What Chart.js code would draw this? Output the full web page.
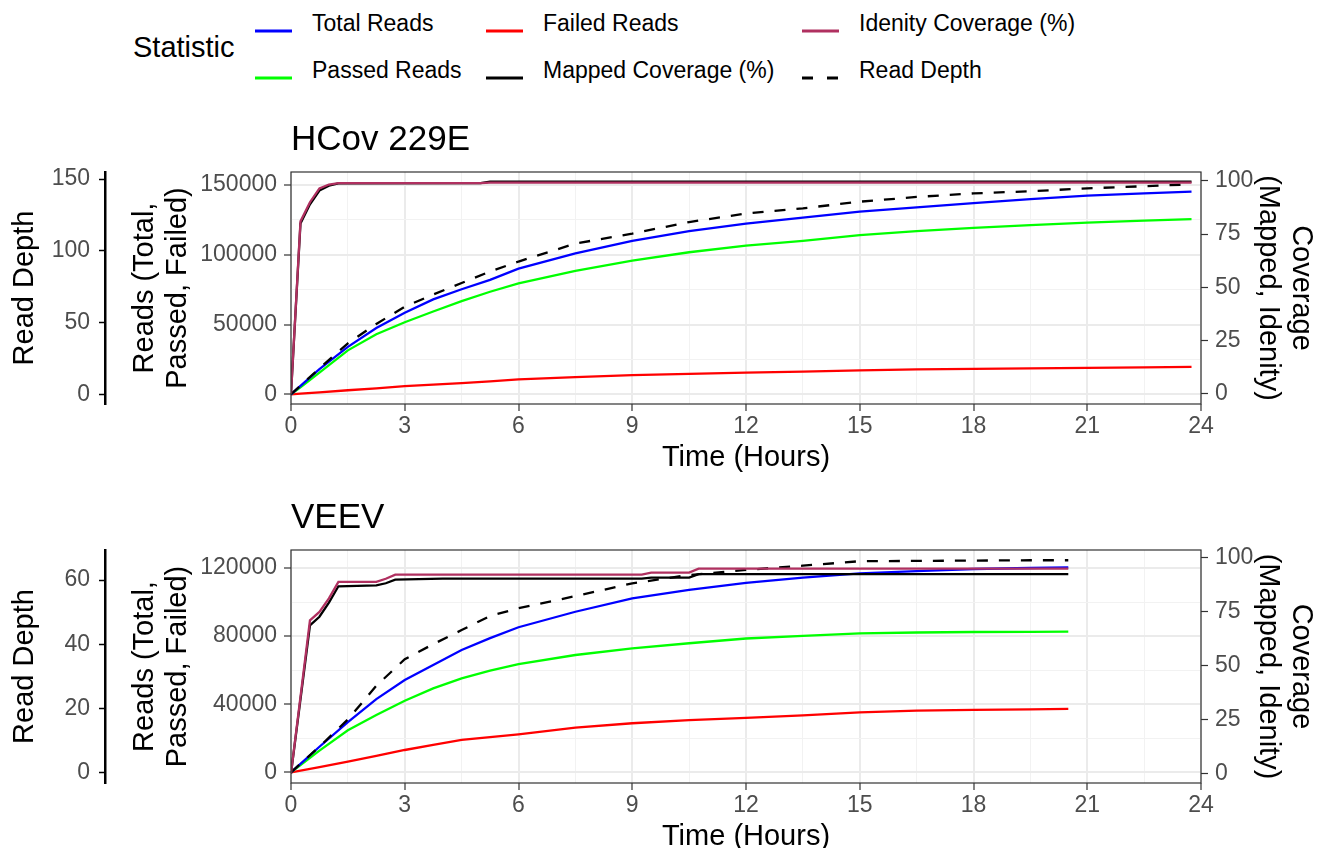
<!DOCTYPE html>
<html>
<head>
<meta charset="utf-8">
<title>Reads, coverage and depth over time</title>
<script src="https://cdn.jsdelivr.net/npm/chart.js@4.4.1/dist/chart.umd.min.js"></script>
<style>
  html, body { margin: 0; padding: 0; background: #fff; overflow: hidden; }
  body { width: 1318px; height: 848px; position: relative; font-family: "Liberation Sans", Arial, sans-serif; }
  #legend { position: absolute; left: 0; top: 0; width: 1318px; height: 95px; }
  .leg-title { position: absolute; left: 133px; top: 47px; font-size: 29px; line-height: 1; transform: translateY(-50%); }
  .leg-key { position: absolute; width: 37px; height: 6px; transform: translateY(-50%); }
  .leg-text { position: absolute; font-size: 23px; line-height: 1; transform: translateY(-50%); white-space: nowrap; }
  canvas { position: absolute; left: 0; }
</style>
</head>
<body>
<div id="legend"><div class="leg-title">Statistic</div></div>
<canvas id="hcov" width="1318" height="390" style="top:90px"></canvas>
<canvas id="veev" width="1318" height="379" style="top:480px"></canvas>
<script>
// Series (legend order, column by column)
const seriesNames = ['Total Reads', 'Passed Reads', 'Failed Reads', 'Mapped Coverage (%)', 'Idenity Coverage (%)', 'Read Depth'];
const seriesColors = ['#0000FF', '#00FF00', '#FF0000', '#000000', '#B03060', '#000000'];

// HCov 229E
const hcovHours = [0, 0.25, 0.75, 1.5, 2.25, 3, 3.75, 4.5, 5.25, 6, 7.5, 9, 10.5, 12, 13.5, 15, 16.5, 18, 19.5, 21, 22.5, 23.75];
const hcovTotal = [0, 6000, 18000, 34000, 47500, 58500, 68000, 75300, 82000, 90000, 101000, 110000, 117000, 122300, 126600, 130900, 134000, 137000, 139800, 142300, 144000, 145300];
const hcovPassed = [0, 5000, 15500, 31500, 43000, 51600, 59300, 66800, 73500, 79500, 88400, 95800, 101800, 106500, 109900, 114000, 117000, 119300, 121200, 123000, 124500, 125600];
const hcovFailed = [0, 450, 1400, 2900, 4300, 5800, 7000, 8000, 9200, 10700, 12300, 13800, 14700, 15500, 16300, 17200, 17900, 18200, 18600, 18900, 19300, 19600];
const hcovDepth = [0, 6, 18, 35.5, 49, 61, 69.5, 77.5, 85.5, 92.5, 105, 112, 120, 126, 129.6, 134.2, 137.5, 140, 141.5, 143.5, 145, 146.3];
const hcovCovHours = [0, 0.25, 0.5, 0.75, 1, 1.25, 5, 5.25, 23.75];
const hcovMapped = [0, 80, 89, 95.5, 97.8, 98.9, 99, 99.7, 99.7];
const hcovIdentity = [0, 81, 90, 96.5, 98.3, 99, 99, 99.2, 99.2];

// VEEV
const veevHours = [0, 0.75, 1.5, 2.25, 3, 3.75, 4.5, 5.25, 6, 7.5, 9, 10.5, 12, 13.5, 15, 16.5, 18, 19.5, 20.5];
const veevTotal = [0, 15000, 29500, 43000, 54200, 63000, 71800, 78800, 85200, 94300, 102200, 107100, 111200, 114300, 116900, 118200, 119400, 120000, 120400];
const veevPassed = [0, 12700, 24700, 33600, 42000, 49300, 55200, 59700, 63600, 68900, 72800, 75800, 78600, 80100, 81600, 82100, 82400, 82500, 82600];
const veevFailed = [0, 3000, 6200, 9700, 13100, 16100, 19000, 20700, 22300, 26200, 28800, 30700, 32000, 33400, 35200, 36200, 36700, 37000, 37200];
const veevDepth = [0, 8, 16.5, 27, 35.3, 40, 44.4, 48.8, 51.2, 55, 59, 61.6, 63.2, 64.5, 65.9, 66, 66.1, 66.2, 66.2];
const veevCovHours = [0, 0.5, 0.75, 1, 1.25, 2.25, 2.5, 2.75, 4, 9.25, 9.5, 10.5, 10.75, 20.5];
const veevMapped = [0, 68.5, 72.5, 79, 86.6, 87, 88, 89.7, 90.1, 90.1, 90.6, 90.6, 92.2, 92.2];
const veevIdentity = [0, 70.8, 74.7, 81, 88.6, 88.6, 90.1, 92, 92, 92, 92.9, 92.9, 94.8, 94.8];

// Tick values
const hourTicks = [0, 3, 6, 9, 12, 15, 18, 21, 24];
const hourMinor = [1.5, 4.5, 7.5, 10.5, 13.5, 16.5, 19.5, 22.5];
const coverageTicks = [0, 25, 50, 75, 100];
const hcovReadTicks = [0, 50000, 100000, 150000];
const hcovReadMinor = [25000, 75000, 125000];
const hcovDepthTicks = [0, 50, 100, 150];
const veevReadTicks = [0, 40000, 80000, 120000];
const veevReadMinor = [20000, 60000, 100000];
const veevDepthTicks = [0, 20, 40, 60];

Chart.defaults.font.family = '"Liberation Sans", Arial, sans-serif';
Chart.defaults.color = '#000';

// legend
const legend = document.getElementById('legend');
const colX = [255, 486, 802];
const rowY = [23, 70];
seriesNames.forEach((name, i) => {
    const x = colX[Math.floor(i / 2)], y = rowY[i % 2];
    const dash = name === 'Read Depth' ? ' stroke-dasharray="11 14"' : '';
    const key = document.createElement('div');
    key.className = 'leg-key';
    key.style.left = x + 'px';
    key.style.top = y + 'px';
    key.innerHTML = '<svg width="37" height="6"><line x1="0" y1="3" x2="37" y2="3" stroke="' + seriesColors[i] + '" stroke-width="3"' + dash + '/></svg>';
    legend.appendChild(key);
    const txt = document.createElement('div');
    txt.className = 'leg-text';
    txt.style.left = (x + 57) + 'px';
    txt.style.top = y + 'px';
    txt.textContent = name;
    legend.appendChild(txt);
});

const pts = (xs, ys) => xs.map((x, i) => ({ x: x, y: ys[i] }));
const tickList = (major, minor) => major.concat(minor || []).sort((a, b) => a - b).map(v => ({ value: v }));

const panelDecor = {
    id: 'panelDecor',
    afterDatasetsDraw(chart, args, opts) {
        const { ctx, chartArea: a } = chart;
        ctx.save();
        ctx.strokeStyle = '#333333';
        ctx.lineWidth = 1.2;
        ctx.strokeRect(a.left, a.top, a.right - a.left, a.bottom - a.top);
        ctx.restore();
    },
    afterDraw(chart, args, opts) {
        const { ctx, chartArea: a } = chart;
        ctx.save();
        ctx.font = '35px "Liberation Sans", Arial, sans-serif';
        ctx.fillStyle = '#000';
        ctx.textBaseline = 'alphabetic';
        ctx.fillText(opts.text, a.left, a.top - 22);
        ctx.restore();
    }
};

function makePanel(id, title, d, lim) {
    const line = (name, data, axis) => {
        const i = seriesNames.indexOf(name);
        return {
            label: name,
            data: data,
            yAxisID: axis,
            borderColor: seriesColors[i],
            borderWidth: 2.3,
            borderDash: name === 'Read Depth' ? [11, 11] : [],
            pointRadius: 0,
            tension: 0,
            fill: false
        };
    };
    const majorGrid = (major) => ({
        color: c => major.includes(c.tick.value) ? '#EBEBEB' : '#F2F2F2',
        lineWidth: c => major.includes(c.tick.value) ? 2 : 1,
        tickLength: 7,
        tickWidth: 1.2,
        tickColor: c => major.includes(c.tick.value) ? '#333333' : 'rgba(0,0,0,0)'
    });
    const tickFont = { size: 23 };

    new Chart(document.getElementById(id), {
        type: 'line',
        data: {
            datasets: [
                line('Idenity Coverage (%)', pts(d.covHours, d.identity), 'cov'),
                line('Mapped Coverage (%)', pts(d.covHours, d.mapped), 'cov'),
                line('Read Depth', pts(d.hours, d.depth), 'depth'),
                line('Total Reads', pts(d.hours, d.total), 'reads'),
                line('Passed Reads', pts(d.hours, d.passed), 'reads'),
                line('Failed Reads', pts(d.hours, d.failed), 'reads')
            ]
        },
        options: {
            responsive: false,
            animation: false,
            layout: { padding: { top: lim.top, left: 0, right: 0, bottom: 0 } },
            plugins: {
                legend: { display: false },
                tooltip: { enabled: false },
                panelDecor: { text: title }
            },
            scales: {
                x: {
                    type: 'linear', position: 'bottom', min: 0, max: 24,
                    afterBuildTicks: s => { s.ticks = tickList(hourTicks, hourMinor); },
                    afterFit: s => { s.height = 76; },
                    ticks: { autoSkip: false, maxRotation: 0, padding: 2, color: '#4D4D4D', font: tickFont,
                             callback: v => hourTicks.includes(v) ? String(v) : '' },
                    grid: majorGrid(hourTicks),
                    border: { display: false },
                    title: { display: true, text: 'Time (Hours)', font: { size: 29, lineHeight: 1.2 }, padding: { top: 0, bottom: 5 } }
                },
                reads: {
                    type: 'linear', position: 'left', weight: 0, min: lim.readMin, max: lim.readMax,
                    afterBuildTicks: s => { s.ticks = tickList(d.readTicks, d.readMinor); },
                    afterFit: s => { s.width = 186; },
                    ticks: { autoSkip: false, padding: 7, color: '#4D4D4D', font: tickFont,
                             callback: v => d.readTicks.includes(v) ? String(v) : '' },
                    grid: majorGrid(d.readTicks),
                    border: { display: false },
                    title: { display: true, text: ['Reads (Total,', 'Passed, Failed)'], font: { size: 29, lineHeight: 1.14 }, padding: { top: 23, bottom: 0 } }
                },
                depth: {
                    type: 'linear', position: 'left', weight: 1, min: lim.depthMin, max: lim.depthMax,
                    afterBuildTicks: s => { s.ticks = tickList(d.depthTicks); },
                    afterFit: s => { s.width = 105; },
                    ticks: { autoSkip: false, padding: 9, color: '#4D4D4D', font: tickFont, callback: v => String(v) },
                    grid: { drawOnChartArea: false, tickLength: 6, tickWidth: 1.5, tickColor: '#000' },
                    border: { display: true, color: '#000', width: 2.5 },
                    title: { display: true, text: 'Read Depth', font: { size: 29, lineHeight: 1.2 }, padding: { top: 8, bottom: 0 } }
                },
                cov: {
                    type: 'linear', position: 'right', min: lim.covMin, max: lim.covMax,
                    afterBuildTicks: s => { s.ticks = tickList(coverageTicks); },
                    afterFit: s => { s.width = 117; },
                    ticks: { autoSkip: false, padding: 7, color: '#4D4D4D', font: tickFont, callback: v => String(v) },
                    grid: { drawOnChartArea: false, tickLength: 7, tickWidth: 1.2, tickColor: '#333333' },
                    border: { display: false },
                    title: { display: true, text: ['Coverage', '(Mapped, Idenity)'], font: { size: 29, lineHeight: 1.14 }, padding: { top: 0, bottom: 0 } }
                }
            }
        },
        plugins: [panelDecor]
    });
}

makePanel('hcov', 'HCov 229E', {
    hours: hcovHours, total: hcovTotal, passed: hcovPassed, failed: hcovFailed, depth: hcovDepth,
    covHours: hcovCovHours, mapped: hcovMapped, identity: hcovIdentity,
    readTicks: hcovReadTicks, readMinor: hcovReadMinor, depthTicks: hcovDepthTicks
}, { top: 82, readMin: -6950, readMax: 159300, depthMin: -6.8, depthMax: 154.9, covMin: -4.8, covMax: 104.2 });

makePanel('veev', 'VEEV', {
    hours: veevHours, total: veevTotal, passed: veevPassed, failed: veevFailed, depth: veevDepth,
    covHours: veevCovHours, mapped: veevMapped, identity: veevIdentity,
    readTicks: veevReadTicks, readMinor: veevReadMinor, depthTicks: veevDepthTicks
}, { top: 70, readMin: -6285, readMax: 130570, depthMin: -3.34, depthMax: 69.4, covMin: -4.5, covMax: 103.4 });
</script>
</body>
</html>
